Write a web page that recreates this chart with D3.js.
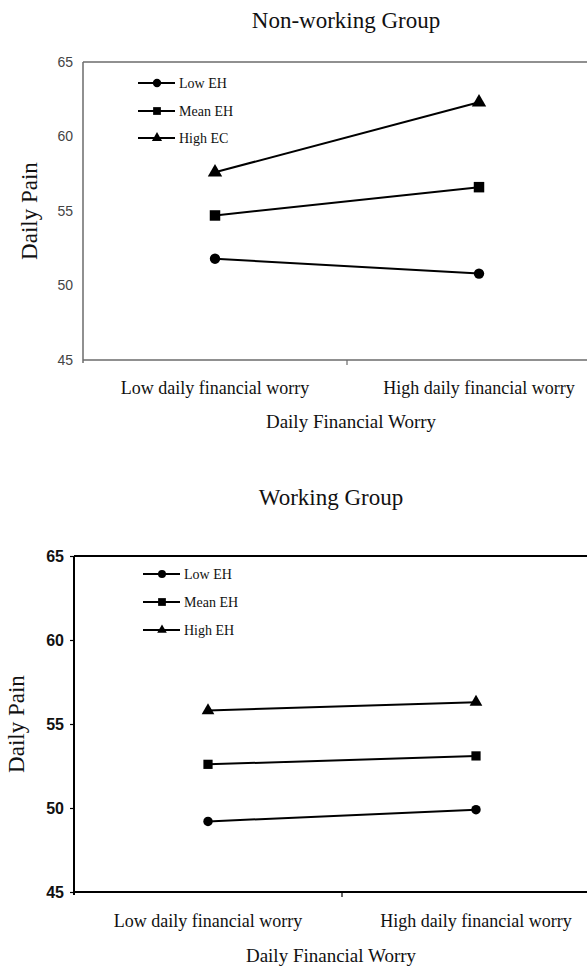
<!DOCTYPE html>
<html><head><meta charset="utf-8">
<script src="https://cdn.jsdelivr.net/npm/d3@7/dist/d3.min.js"></script>
<style>body{margin:0;background:#fff}svg{display:block}</style>
</head><body>
<svg id="c" width="587" height="975"></svg>
<script>
// ---- data ----
const categories = ["Low daily financial worry", "High daily financial worry"];
const yTicks = [45, 50, 55, 60, 65];
const topTitle = "Non-working Group";
const bottomTitle = "Working Group";
const topSeriesNames = ["Low EH", "Mean EH", "High EC"];
const bottomSeriesNames = ["Low EH", "Mean EH", "High EH"];
const topLow = [51.8, 50.8];
const topMean = [54.7, 56.6];
const topHigh = [57.6, 62.3];
const botLow = [49.2, 49.9];
const botMean = [52.6, 53.1];
const botHigh = [55.8, 56.3];
const markers = [d3.symbolCircle, d3.symbolSquare, d3.symbolTriangle];

const svg = d3.select("#c");
const serif = "'Liberation Serif','Times New Roman',serif";
const sans = "'Liberation Sans',Arial,sans-serif";

function panel(o) {
  const g = svg.append("g");
  const x = d3.scaleBand().domain(categories).range([o.left, o.right]);
  const y = d3.scaleLinear().domain([45, 65]).range([o.bottom, o.top]);
  // title
  g.append("text").attr("x", o.titleX).attr("y", o.titleY).attr("text-anchor", "middle")
    .attr("font-family", serif).attr("font-size", 23).attr("fill", "#111").text(o.title);
  // frame top line
  g.append("line").attr("x1", o.left).attr("x2", 587).attr("y1", o.top).attr("y2", o.top)
    .attr("stroke", o.axisColor).attr("stroke-width", o.axisW);
  // y axis
  const ya = g.append("g").attr("transform", `translate(${o.left},0)`)
    .call(d3.axisLeft(y).tickValues(yTicks).tickSize(o.yTick).tickPadding(o.yPad));
  ya.select(".domain").attr("stroke", o.axisColor).attr("stroke-width", o.axisW)
    .attr("d", `M0,${o.top}V${o.bottom + 3}`);
  ya.selectAll(".tick line").attr("stroke", o.axisColor).attr("stroke-width", 1.2);
  ya.selectAll(".tick text").attr("font-family", sans).attr("font-size", o.yFont)
    .attr("font-weight", o.yWeight).attr("fill", o.yColor);
  // x axis
  const xa = g.append("g").attr("transform", `translate(0,${o.bottom})`)
    .call(d3.axisBottom(x).tickSize(0).tickPadding(o.xPad));
  xa.select(".domain").attr("stroke", o.axisColor).attr("stroke-width", o.axisW)
    .attr("d", `M${o.left},0H587`);
  xa.selectAll(".tick text").attr("font-family", serif).attr("font-size", 18).attr("fill", "#111");
  // middle tick between categories
  const mid = x(categories[1]);
  g.append("line").attr("x1", mid).attr("x2", mid).attr("y1", o.bottom).attr("y2", o.bottom + 5)
    .attr("stroke", o.axisColor).attr("stroke-width", 1.2);
  // axis titles
  g.append("text").attr("transform", `translate(${o.yTitleX},${(o.top + o.bottom) / 2}) rotate(-90)`)
    .attr("text-anchor", "middle").attr("font-family", serif).attr("font-size", 23).attr("fill", "#111")
    .text("Daily Pain");
  g.append("text").attr("x", o.xTitleX).attr("y", o.xTitleY).attr("text-anchor", "middle")
    .attr("font-family", serif).attr("font-size", 19).attr("fill", "#111").text("Daily Financial Worry");
  // series
  const line = d3.line().x((d, i) => x(categories[i]) + x.bandwidth() / 2).y(d => y(d));
  o.series.forEach((s, k) => {
    g.append("path").datum(s).attr("d", line).attr("fill", "none").attr("stroke", "#000")
      .attr("stroke-width", 2);
    g.selectAll(null).data(s).enter().append("path")
      .attr("transform", (d, i) => `translate(${x(categories[i]) + x.bandwidth() / 2},${y(d)})`)
      .attr("d", d3.symbol().type(markers[k]).size(o.msize[k])).attr("fill", "#000");
  });
  // legend
  o.names.forEach((n, k) => {
    const ly = o.legY[k];
    g.append("line").attr("x1", o.legX).attr("x2", o.legX + 37).attr("y1", ly).attr("y2", ly)
      .attr("stroke", "#000").attr("stroke-width", 2);
    g.append("path").attr("transform", `translate(${o.legX + 19},${ly})`)
      .attr("d", d3.symbol().type(markers[k]).size(o.lsize[k])).attr("fill", "#000");
    g.append("text").attr("x", o.legX + 41).attr("y", ly + 5).attr("font-family", serif)
      .attr("font-size", 14).attr("fill", "#111").text(n);
  });
}

panel({
  title: topTitle, titleX: 346, titleY: 28,
  left: 83, right: 611, top: 62, bottom: 360,
  axisColor: "#6b6b6b", axisW: 1.5, yTick: 0, yPad: 10, yFont: 14, yWeight: "normal", yColor: "#444",
  xPad: 21, yTitleX: 37, xTitleX: 351, xTitleY: 428,
  series: [topLow, topMean, topHigh], names: topSeriesNames,
  msize: [85, 110, 90], lsize: [55, 60, 45],
  legX: 138, legY: [83, 111, 138]
});
panel({
  title: bottomTitle, titleX: 331, titleY: 505,
  left: 74, right: 610, top: 556, bottom: 892,
  axisColor: "#000", axisW: 2, yTick: 4, yPad: 6, yFont: 16, yWeight: "bold", yColor: "#111",
  xPad: 22, yTitleX: 24, xTitleX: 331, xTitleY: 962,
  series: [botLow, botMean, botHigh], names: bottomSeriesNames,
  msize: [70, 85, 70], lsize: [50, 60, 40],
  legX: 143, legY: [574, 602, 630]
});
</script>
</body></html>
